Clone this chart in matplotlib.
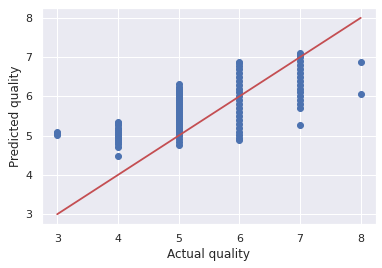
import matplotlib
matplotlib.use("Agg")
import matplotlib.pyplot as plt
import seaborn as sns

sns.set_theme(style="darkgrid", color_codes=True)

q3 = [5.02, 5.06, 5.1]
q4 = [4.48, 4.72, 4.78, 4.85, 4.9, 4.95, 5.0, 5.05, 5.1, 5.15, 5.2, 5.27, 5.32, 5.36]
q5 = [4.75, 4.85, 4.92, 5.0, 5.05, 5.1, 5.15, 5.2, 5.25, 5.3, 5.35, 5.4, 5.45, 5.5,
      5.55, 5.6, 5.65, 5.7, 5.75, 5.8, 5.85, 5.9, 5.95, 6.0, 6.05, 6.1, 6.15, 6.2,
      6.25, 6.32]
q6 = [4.88, 4.95, 5.02, 5.1, 5.2, 5.3, 5.4, 5.5, 5.6, 5.7, 5.8, 5.9, 6.0, 6.1, 6.2,
      6.3, 6.4, 6.5, 6.6, 6.7, 6.78, 6.85, 6.88]
q7 = [5.28, 5.7, 5.8, 5.9, 6.0, 6.1, 6.2, 6.3, 6.4, 6.5, 6.6, 6.7, 6.8, 6.9, 7.0,
      7.05, 7.11]
q8 = [6.05, 6.88]

actual = [3] * len(q3) + [4] * len(q4) + [5] * len(q5) + [6] * len(q6) + [7] * len(q7) + [8] * len(q8)
predicted = q3 + q4 + q5 + q6 + q7 + q8
line_x = [3, 4, 5, 6, 7, 8]

fig = plt.figure(figsize=(382 / 72, 268 / 72), dpi=72)
ax = fig.add_axes([0.110, 0.164, 0.874, 0.806])
ax.scatter(actual, predicted, color="b", s=36)
ax.plot(line_x, line_x, color="r", linewidth=1.8)
ax.set_xlabel("Actual quality")
ax.set_ylabel("Predicted quality")
ax.set_xlim(2.75, 8.25)
ax.set_ylim(2.75, 8.25)
fig.savefig("out.png", dpi=72)
